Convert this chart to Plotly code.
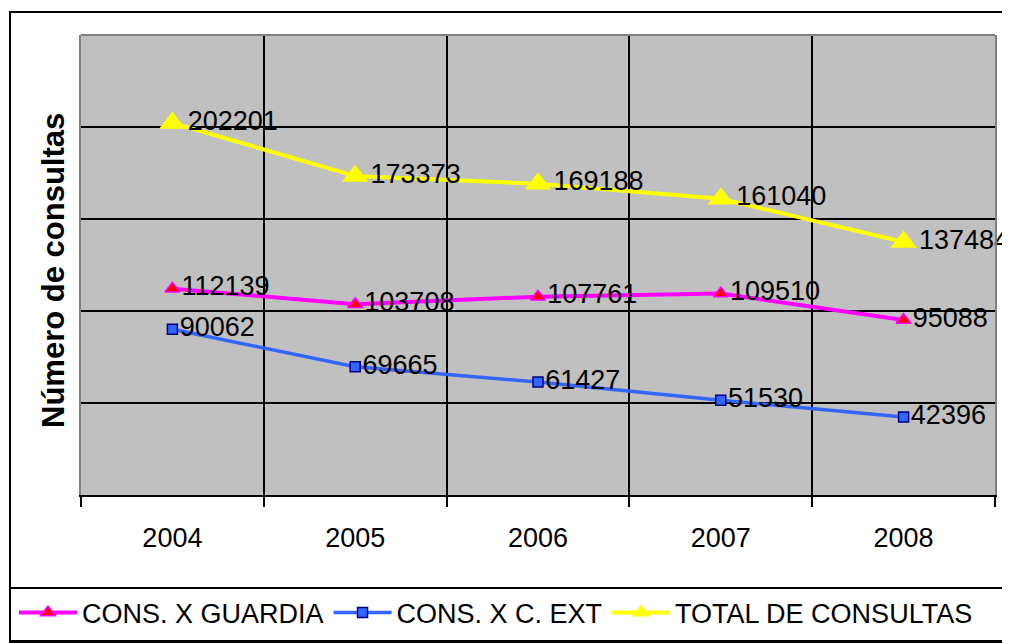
import plotly.graph_objects as go

years = ["2004", "2005", "2006", "2007", "2008"]
guardia = [112139, 103708, 107761, 109510, 95088]
c_ext = [90062, 69665, 61427, 51530, 42396]
total = [202201, 173373, 169188, 161040, 137484]
series_names = ["CONS. X GUARDIA", "CONS. X C. EXT", "TOTAL DE CONSULTAS"]
y_title = "Número de consultas"
grid_vals = [50000, 100000, 150000, 200000]

FONT = "Liberation Sans, Arial, sans-serif"
# the page body has an 8px margin; work in screen pixels and shift
OFF = 8
W, H = 1010 - OFF, 643 - OFF
PL, PR, PT, PB = 81, 995, 35, 495  # plot area in screen pixels
ML, MR, MT, MB = PL - OFF, W - (PR - OFF), PT - OFF, H - (PB - OFF)
PW, PH = PR - PL, PB - PT
LABEL_SIZE = 27

def px_x(x):
    return (x - PL) / PW

def px_y(y):
    return (PB - y) / PH

fig = go.Figure()

fig.add_trace(go.Scatter(
    x=years, y=guardia, name=series_names[0], mode="lines+markers+text",
    text=[str(v) for v in guardia], textposition="middle right",
    textfont=dict(family=FONT, size=LABEL_SIZE, color="black"), cliponaxis=False,
    line=dict(color="#FF00FF", width=4),
    marker=dict(symbol="triangle-up", size=13, color="#FF0000",
                line=dict(color="#FF00FF", width=1.5)),
))
fig.add_trace(go.Scatter(
    x=years, y=c_ext, name=series_names[1], mode="lines+markers+text",
    text=[str(v) for v in c_ext], textposition="middle right",
    textfont=dict(family=FONT, size=LABEL_SIZE, color="black"), cliponaxis=False,
    line=dict(color="#3366FF", width=3.5),
    marker=dict(symbol="square", size=10, color="#3366FF",
                line=dict(color="#000080", width=1.5)),
))
fig.add_trace(go.Scatter(
    x=years, y=total, name=series_names[2], mode="lines+markers+text",
    text=[str(v) for v in total], textposition="middle right",
    textfont=dict(family=FONT, size=LABEL_SIZE, color="black"), cliponaxis=False,
    line=dict(color="#FFFF00", width=4),
    marker=dict(symbol="triangle-up", size=23, color="#FFFF00",
                line=dict(width=0)),
))

shapes = [
    # outer frame
    dict(type="rect", xref="paper", yref="paper",
         x0=px_x(10), x1=px_x(1009), y0=px_y(642), y1=px_y(12),
         line=dict(color="black", width=2), layer="below"),
    # legend box
    dict(type="rect", xref="paper", yref="paper",
         x0=px_x(10), x1=px_x(1008), y0=px_y(641), y1=px_y(588),
         line=dict(color="black", width=2), layer="below"),
    # top border of plot area
    dict(type="line", xref="paper", yref="paper",
         x0=0, x1=1, y0=1, y1=1, line=dict(color="#808080", width=2)),
]

annotations = [
    dict(text="<b>" + y_title + "</b>", xref="paper", yref="paper",
         x=px_x(53), y=px_y(271), xanchor="center", yanchor="middle",
         textangle=-90, showarrow=False,
         font=dict(family=FONT, size=31, color="black")),
]

fig.update_layout(
    width=W, height=H,
    margin=dict(l=ML, r=MR, t=MT, b=MB, autoexpand=False),
    paper_bgcolor="white",
    plot_bgcolor="#C0C0C0",
    font=dict(family=FONT, color="black"),
    showlegend=True,
    legend=dict(
        orientation="h", x=px_x(14), xanchor="left",
        y=px_y(613), yanchor="middle",
        font=dict(family=FONT, size=27, color="black"),
        itemwidth=58, bgcolor="rgba(0,0,0,0)", borderwidth=0,
        traceorder="normal", tracegroupgap=0,
    ),
    shapes=shapes,
    annotations=annotations,
)

fig.update_xaxes(
    type="category", tickson="boundaries", ticks="outside", ticklen=10,
    tickcolor="black", tickwidth=1.5,
    showgrid=True, gridcolor="black", gridwidth=1.5,
    showline=True, linecolor="black", linewidth=2,
    tickfont=dict(family=FONT, size=27, color="black"),
    ticklabelstandoff=18,
    range=[-0.5, 4.5], fixedrange=True, automargin=False,
)
fig.update_yaxes(
    range=[0, 250000], tickvals=grid_vals, showticklabels=False,
    showgrid=True, gridcolor="black", gridwidth=1.5, zeroline=False,
    showline=True, linecolor="#808080", linewidth=2, mirror=True,
    ticks="", automargin=False,
)

fig.write_html("out.html")
